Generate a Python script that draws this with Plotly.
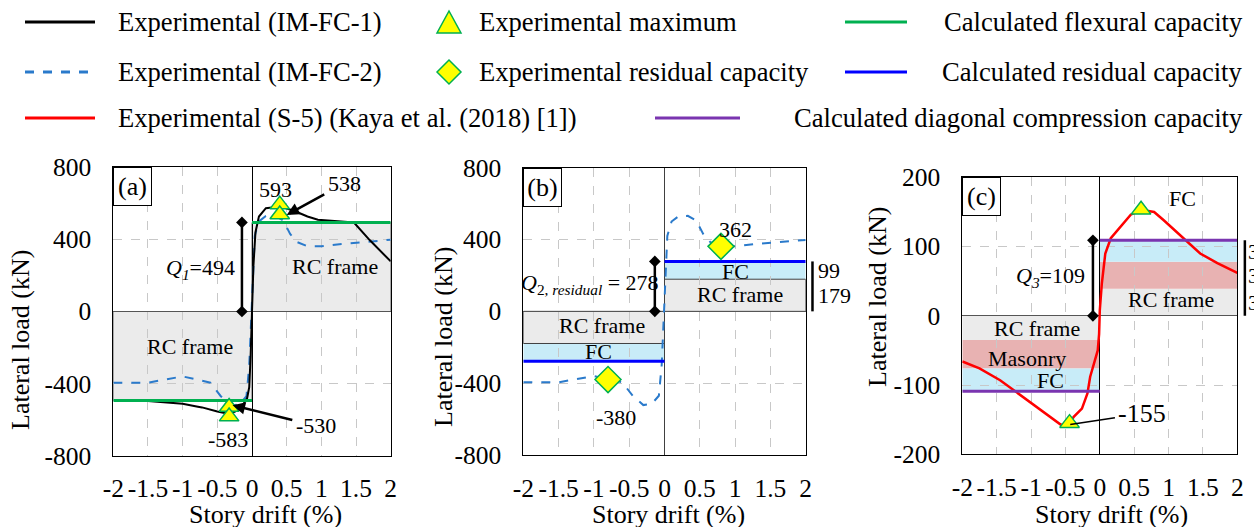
import plotly.graph_objects as go

W, H = 1254, 527
FONT = "Liberation Serif"

# ---------------- data ----------------
drift_ticks = [-2, -1.5, -1, -0.5, 0, 0.5, 1, 1.5, 2]
drift_tick_text = ["-2", "-1.5", "-1", "-0.5", "0", "0.5", "1", "1.5", "2"]
load_ticks_ab = [-800, -400, 0, 400, 800]
load_tick_text_ab = ["-800", "-400", "0", "400", "800"]
load_ticks_c = [-200, -100, 0, 100, 200]
load_tick_text_c = ["-200", "-100", "0", "100", "200"]

# Experimental (IM-FC-1) envelope
fc1_drift = [-1.5, -1.0, -0.78, -0.72, -0.5, -0.38, -0.25, -0.15, -0.07, -0.04, -0.02, 0.0,
             0.02, 0.05, 0.1, 0.2, 0.42, 0.63, 0.8, 0.95, 1.2, 1.47, 1.7, 2.0]
fc1_load = [-497, -512, -528, -532, -555, -565, -556, -530, -480, -420, -250, 0,
            250, 440, 527, 573, 582, 555, 527, 509, 503, 494, 395, 278]

# Experimental (IM-FC-2) envelope
fc2_drift = [-2.0, -1.5, -1.0, -0.6, -0.45, -0.3, -0.18, -0.08, -0.04, -0.02, 0.0,
             0.02, 0.04, 0.1, 0.2, 0.33, 0.45, 0.55, 0.65, 0.8, 1.0, 1.3, 1.6, 2.0]
fc2_load = [-395, -395, -360, -395, -470, -522, -515, -470, -300, -100, 0,
            250, 420, 500, 530, 532, 505, 430, 385, 362, 362, 375, 385, 398]

# Experimental (S-5) (Kaya et al. 2018)
s5_drift = [-2.0, -1.75, -1.45, -1.15, -0.86, -0.57, -0.48, -0.38, -0.26, -0.18, -0.14, -0.09,
            -0.03, -0.01, 0.0, 0.03, 0.08, 0.16, 0.3, 0.45, 0.6, 0.79, 0.93, 1.08, 1.27, 1.46, 1.71, 2.0]
s5_load = [-66, -76, -93, -115, -136, -157, -160, -146, -134, -112, -88, -69,
           -50, -26, 8, 47, 90, 112, 129, 146, 153, 150, 138, 124, 107, 90, 76, 62]

# experimental maxima / residual capacities
max_a_drift = [0.4, 0.4, -0.33, -0.33]
max_a_load = [593, 538, -530, -583]
res_b_drift = [0.8, -0.8]
res_b_load = [362, -380]
max_c_drift = [0.6, -0.44]
max_c_load = [153, -155]

# calculated capacities
Q1 = 494                      # flexural capacity (a)
rc_b, fc_b = 179, 99          # residual capacity components (b)
Q2 = rc_b + fc_b              # 278
rc_c_pos, mas_c_pos, fc_c_pos = 39, 39, 31   # diagonal compression components (c), + side
rc_c_neg, mas_c_neg, fc_c_neg = 35, 41, 33   # - side
Q3 = 109

# ---------------- styles ----------------
GRAY = "#ebebeb"
LBLUE = "#c8ecf8"
PINK = "#e8b2b2"
GREEN = "#00b050"
BLUE = "#0000ff"
PURPLE = "#7a35b0"
DASHBLUE = "#2a7acb"
YELLOW = "#ffff00"


def px(x):
    return x / W


def py(y):
    return 1 - y / H


dom = {
    "a": ([px(113.3), px(390.7)], [py(455.7), py(167.3)]),
    "b": ([px(523.3), px(805.7)], [py(455.0), py(167.7)]),
    "c": ([px(962.3), px(1237.3)], [py(454.3), py(177.3)]),
}

fig = go.Figure()


def xy(p):
    return {"a": ("x", "y"), "b": ("x2", "y2"), "c": ("x3", "y3")}[p]


# ---------------- bands (shapes in data coords) ----------------
shapes = []


def band(p, x0, x1, y0, y1, color, border=None):
    xa, ya = xy(p)
    shapes.append(dict(type="rect", xref=xa, yref=ya, x0=x0, x1=x1, y0=y0, y1=y1,
                       fillcolor=color, layer="below",
                       line=dict(width=1 if border else 0, color=border or "rgba(0,0,0,0)")))


band("a", 0, 2, 0, Q1, GRAY, "#6b6b6b")
band("a", -2, 0, -Q1, 0, GRAY, "#6b6b6b")
band("b", 0, 2, rc_b, Q2, LBLUE)
band("b", 0, 2, 0, rc_b, GRAY, "#404040")
band("b", -2, 0, -Q2, -rc_b, LBLUE)
band("b", -2, 0, -rc_b, 0, GRAY, "#404040")
band("c", 0, 2, 0, rc_c_pos, GRAY)
band("c", 0, 2, rc_c_pos, rc_c_pos + mas_c_pos, PINK)
band("c", 0, 2, rc_c_pos + mas_c_pos, Q3, LBLUE)
band("c", -2, 0, -rc_c_neg, 0, GRAY)
band("c", -2, 0, -(rc_c_neg + mas_c_neg), -rc_c_neg, PINK)
band("c", -2, 0, -Q3, -(rc_c_neg + mas_c_neg), LBLUE)

# ---------------- curves ----------------
xa, ya = xy("a")
fig.add_trace(go.Scatter(x=fc2_drift, y=fc2_load, mode="lines", xaxis=xa, yaxis=ya,
                         line=dict(color=DASHBLUE, width=2, dash="dash")))
fig.add_trace(go.Scatter(x=fc1_drift, y=fc1_load, mode="lines", xaxis=xa, yaxis=ya,
                         line=dict(color="black", width=2)))
fig.add_trace(go.Scatter(x=[0, 2, None, -2, 0], y=[Q1, Q1, None, -Q1, -Q1], mode="lines",
                         xaxis=xa, yaxis=ya, line=dict(color=GREEN, width=3)))
fig.add_trace(go.Scatter(x=max_a_drift, y=max_a_load, mode="markers", xaxis=xa, yaxis=ya,
                         cliponaxis=False,
                         marker=dict(symbol="triangle-up", size=17, color=YELLOW,
                                     line=dict(color=GREEN, width=1.5))))

xb, yb = xy("b")
fig.add_trace(go.Scatter(x=fc2_drift, y=fc2_load, mode="lines", xaxis=xb, yaxis=yb,
                         line=dict(color=DASHBLUE, width=2, dash="dash")))
fig.add_trace(go.Scatter(x=[0, 2, None, -2, 0], y=[Q2, Q2, None, -Q2, -Q2], mode="lines",
                         xaxis=xb, yaxis=yb, line=dict(color=BLUE, width=3)))
fig.add_trace(go.Scatter(x=res_b_drift, y=res_b_load, mode="markers", xaxis=xb, yaxis=yb,
                         marker=dict(symbol="diamond", size=20, color=YELLOW,
                                     line=dict(color=GREEN, width=1.5))))

xc, yc = xy("c")
fig.add_trace(go.Scatter(x=s5_drift, y=s5_load, mode="lines", xaxis=xc, yaxis=yc,
                         line=dict(color="#ff0000", width=2.5)))
fig.add_trace(go.Scatter(x=[0, 2, None, -2, 0], y=[Q3, Q3, None, -Q3, -Q3], mode="lines",
                         xaxis=xc, yaxis=yc, line=dict(color=PURPLE, width=3)))
fig.add_trace(go.Scatter(x=max_c_drift, y=max_c_load, mode="markers", xaxis=xc, yaxis=yc,
                         cliponaxis=False,
                         marker=dict(symbol="triangle-up", size=17, color=YELLOW,
                                     line=dict(color=GREEN, width=1.5))))

# ---------------- brackets ----------------
def inner_bracket(p, xpos, top):
    xa_, ya_ = xy(p)
    fig.add_trace(go.Scatter(x=[xpos, xpos], y=[0, top], mode="lines+markers", xaxis=xa_, yaxis=ya_,
                             cliponaxis=False, line=dict(color="black", width=2.5),
                             marker=dict(symbol="diamond", size=9, color="black")))


inner_bracket("a", -0.145, Q1)
inner_bracket("b", -0.137, Q2)
inner_bracket("c", -0.10, Q3)


def outer_bracket(p, xpos, levels):
    xa_, ya_ = xy(p)
    frac = (xpos + 2) / 4
    shapes.append(dict(type="line", xref=xa_ + " domain", yref=ya_, x0=frac, x1=frac,
                       y0=levels[0], y1=levels[-1], line=dict(color="black", width=2.5)))
    fig.add_trace(go.Scatter(x=[xpos] * len(levels), y=levels, mode="markers", xaxis=xa_, yaxis=ya_,
                             cliponaxis=False, marker=dict(symbol="diamond", size=9, color="black")))


outer_bracket("b", 2.096, [0, rc_b, Q2])
outer_bracket("c", 2.11, [0, rc_c_pos, rc_c_pos + mas_c_pos, Q3])

# ---------------- axes ----------------
def xaxis_cfg(p):
    d = dom[p][0]
    return dict(domain=d, range=[-2, 2], tickvals=drift_ticks, ticktext=drift_tick_text, tickangle=0,
                showgrid=True, gridcolor="#c8c8c8", griddash="dash", gridwidth=1,
                zeroline=True, zerolinecolor="black" if p != "b" else "#404040", zerolinewidth=1,
                showline=True, mirror=True, linecolor="black", linewidth=1,
                ticks="", ticklabelstandoff=10, automargin=False,
                tickfont=dict(family=FONT, size=25.5, color="black"),
                anchor={"a": "y", "b": "y2", "c": "y3"}[p], fixedrange=True)


def yaxis_cfg(p, rng, vals, txt):
    d = dom[p][1]
    return dict(domain=d, range=rng, tickvals=vals, ticktext=txt,
                showgrid=True, gridcolor="#c8c8c8", griddash="dash", gridwidth=1,
                zeroline=True, zerolinecolor="#555555", zerolinewidth=1,
                showline=True, mirror=True, linecolor="black", linewidth=1,
                ticks="", ticklabelstandoff=16, automargin=False,
                tickfont=dict(family=FONT, size=25.5, color="black"),
                anchor={"a": "x", "b": "x2", "c": "x3"}[p], fixedrange=True)


# ---------------- annotations ----------------
ann = []


def txt(p, x, y, t, size=22, **kw):
    xa_, ya_ = xy(p)
    ann.append(dict(xref=xa_, yref=ya_, x=x, y=y, text=t, showarrow=False,
                    xanchor="center", yanchor="middle",
                    font=dict(family=FONT, size=size, color="black"), **kw))


def arrow(p, x, y, tx, ty, t, size=22, head=2, width=2.5):
    xa_, ya_ = xy(p)
    ann.append(dict(xref=xa_, yref=ya_, x=x, y=y, ax=tx, ay=ty, axref=xa_, ayref=ya_, text=t,
                    showarrow=True, arrowhead=head, arrowsize=1, arrowwidth=width, arrowcolor="black",
                    standoff=0, borderpad=3, font=dict(family=FONT, size=size, color="black")))


def label_box(p, t):
    xa_, ya_ = xy(p)
    ann.append(dict(xref=xa_ + " domain", yref=ya_ + " domain", x=0, y=1, xanchor="left", yanchor="top",
                    text=t, showarrow=False, bgcolor="white", bordercolor="black", borderwidth=1,
                    width=35, height=35, borderpad=1, font=dict(family=FONT, size=26, color="black")))


def side_label(p, frac, y, t):
    xa_, ya_ = xy(p)
    ann.append(dict(xref=xa_ + " domain", yref=ya_, x=frac, y=y, xanchor="left", yanchor="middle",
                    text=t, showarrow=False, font=dict(family=FONT, size=22, color="black")))


# panel (a)
label_box("a", "(a)")
txt("a", 0.34, 675, "593")
arrow("a", 0.5, 536, 1.33, 711, "538")
arrow("a", -0.28, -520, 0.92, -634, "-530")
txt("a", -0.35, -708, "-583")
txt("a", 1.2, 247, "RC frame")
txt("a", -0.89, -192, "RC frame")
txt("a", -0.74, 236, "<i>Q</i><sub><i>1</i></sub>=494")

# panel (b)
label_box("b", "(b)")
txt("b", 1.0, 455, "362")
txt("b", -0.69, -590, "-380")
txt("b", 1.0, 224, "FC")
txt("b", 1.07, 94, "RC frame")
txt("b", -0.89, -81, "RC frame")
txt("b", -0.94, -225, "FC")
txt("b", -1.06, 150, "<i>Q</i><sub>2, <i>residual</i></sub> = 278")
side_label("b", 1.036, (rc_b + Q2) / 2, str(fc_b))
side_label("b", 1.036, rc_b / 2, str(rc_b))

# panel (c)
label_box("c", "(c)")
arrow("c", -0.43, -157, 0.62, -141, "-155", size=26, head=0, width=1.5)
txt("c", 1.2, 170, "FC")
txt("c", 1.03, 24, "RC frame")
txt("c", -0.92, -19, "RC frame")
txt("c", -1.06, -62, "Masonry")
txt("c", -0.72, -93, "FC")
txt("c", -0.72, 56, "<i>Q</i><sub><i>3</i></sub>=109")
side_label("c", 1.033, (rc_c_pos + mas_c_pos + Q3) / 2, str(fc_c_pos))
side_label("c", 1.033, rc_c_pos + mas_c_pos / 2, str(mas_c_pos))
side_label("c", 1.033, rc_c_pos / 2, str(rc_c_pos))

# axis titles (as paper annotations)
TF = dict(family=FONT, size=26, color="black")
for cx, cy in [(20, 340), (443, 337), (877, 297)]:
    ann.append(dict(xref="paper", yref="paper", x=px(cx), y=py(cy), text="Lateral load (kN)",
                    xanchor="center", yanchor="middle", textangle=-90, showarrow=False, font=TF))
for cx, cy in [(265, 514), (669, 514), (1111, 514)]:
    ann.append(dict(xref="paper", yref="paper", x=px(cx), y=py(cy), text="Story drift (%)",
                    xanchor="center", yanchor="middle", showarrow=False, font=TF))

# ---------------- legend (drawn) ----------------
LF = dict(family=FONT, size=26.6, color="black")
legend_items = [
    # (kind, color, key x0, key x1, row y, text x, text)
    ("line", "black", 25, 95, 22, 116, "Experimental (IM-FC-1)"),
    ("dash", DASHBLUE, 25, 95, 72, 116, "Experimental (IM-FC-2)"),
    ("line", "#ff0000", 25, 95, 118, 116, "Experimental (S-5) (Kaya et al. (2018) [1])"),
    ("tri", None, 449, 449, 22, 477, "Experimental maximum"),
    ("dia", None, 449, 449, 72, 477, "Experimental residual capacity"),
    ("line", GREEN, 845, 907, 22, 942, "Calculated flexural capacity"),
    ("line", BLUE, 845, 907, 72, 940, "Calculated residual capacity"),
    ("line", PURPLE, 655, 740, 118, 792, "Calculated diagonal compression capacity"),
]
for kind, col, x0, x1, yy, tx, t in legend_items:
    if kind in ("line", "dash"):
        shapes.append(dict(type="line", xref="paper", yref="paper", x0=px(x0), x1=px(x1), y0=py(yy), y1=py(yy),
                           line=dict(color=col, width=3, dash="dash" if kind == "dash" else "solid")))
    elif kind == "tri":
        w2, h2 = 12, 11
        path = "M {},{} L {},{} L {},{} Z".format(px(x0 - w2), py(yy + h2), px(x0 + w2), py(yy + h2),
                                                  px(x0), py(yy - h2))
        shapes.append(dict(type="path", xref="paper", yref="paper", path=path, fillcolor=YELLOW,
                           line=dict(color=GREEN, width=1.5)))
    else:
        r = 12
        path = "M {},{} L {},{} L {},{} L {},{} Z".format(px(x0 - r), py(yy), px(x0), py(yy - r),
                                                          px(x0 + r), py(yy), px(x0), py(yy + r))
        shapes.append(dict(type="path", xref="paper", yref="paper", path=path, fillcolor=YELLOW,
                           line=dict(color=GREEN, width=1.5)))
    ann.append(dict(xref="paper", yref="paper", x=px(tx), y=py(yy), xanchor="left", yanchor="middle",
                    text=t, showarrow=False, font=LF))

fig.update_layout(
    width=W, height=H, margin=dict(l=0, r=0, t=0, b=0, pad=0, autoexpand=False),
    paper_bgcolor="white", plot_bgcolor="white", showlegend=False,
    font=dict(family=FONT, color="black"),
    xaxis=xaxis_cfg("a"), xaxis2=xaxis_cfg("b"), xaxis3=xaxis_cfg("c"),
    yaxis=yaxis_cfg("a", [-800, 800], load_ticks_ab, load_tick_text_ab),
    yaxis2=yaxis_cfg("b", [-800, 800], load_ticks_ab, load_tick_text_ab),
    yaxis3=yaxis_cfg("c", [-200, 200], load_ticks_c, load_tick_text_c),
    shapes=shapes, annotations=ann,
)

fig.write_html("out.html")
